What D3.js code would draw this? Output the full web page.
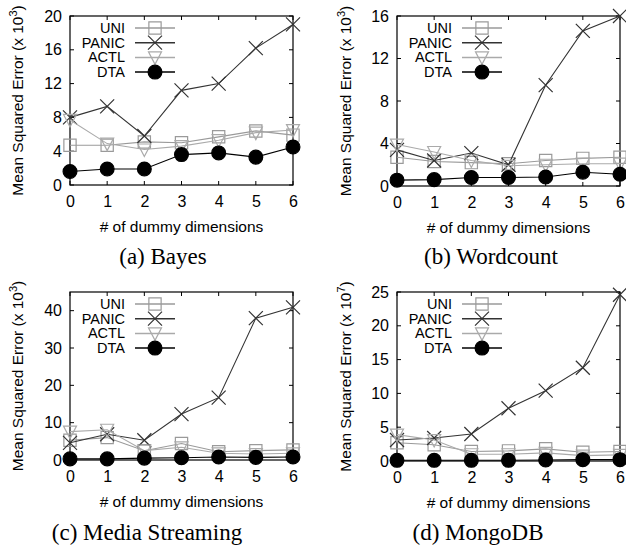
<!DOCTYPE html>
<html>
<head>
<meta charset="utf-8">
<script src="https://cdn.jsdelivr.net/npm/d3@7"></script>
<style>
  body { margin: 0; background: #fff; }
  svg { display: block; }
</style>
</head>
<body>
<svg id="chart" width="626" height="548"></svg>
<script>
// x values shared by every panel
const dims = [0, 1, 2, 3, 4, 5, 6];
const seriesNames = ["UNI", "PANIC", "ACTL", "DTA"];

// (a) Bayes, x 10^3
const bayesUNI   = [4.7, 4.7, 5.1, 5.0, 5.7, 6.4, 5.9];
const bayesPANIC = [8.0, 9.3, 5.8, 11.2, 12.0, 16.2, 19.0];
const bayesACTL  = [7.7, 4.9, 4.2, 4.6, 5.3, 6.2, 6.5];
const bayesDTA   = [1.6, 1.9, 1.9, 3.6, 3.8, 3.3, 4.5];

// (b) Wordcount, x 10^3
const wcUNI   = [2.7, 2.3, 2.2, 2.1, 2.4, 2.6, 2.7];
const wcPANIC = [3.4, 2.4, 3.1, 2.0, 9.5, 14.6, 16.0];
const wcACTL  = [3.9, 3.2, 2.4, 1.9, 2.0, 2.1, 2.1];
const wcDTA   = [0.55, 0.6, 0.8, 0.8, 0.85, 1.3, 1.1];

// (c) Media Streaming, x 10^3
const msUNI   = [5.3, 6.0, 2.5, 4.4, 2.2, 2.5, 2.7];
const msPANIC = [4.6, 6.9, 5.3, 12.3, 16.7, 38.0, 40.9];
const msACTL  = [7.6, 8.1, 2.5, 3.4, 1.8, 1.6, 1.8];
const msDTA   = [0.3, 0.3, 0.5, 0.6, 0.8, 0.7, 0.8];

// (d) MongoDB, x 10^7
const mgUNI   = [2.7, 2.4, 1.4, 1.5, 1.8, 1.3, 1.4];
const mgPANIC = [3.1, 3.4, 4.0, 7.8, 10.4, 13.8, 24.6];
const mgACTL  = [3.9, 3.1, 1.0, 1.0, 1.2, 0.8, 0.9];
const mgDTA   = [0.1, 0.1, 0.1, 0.1, 0.15, 0.2, 0.2];

const svg = d3.select("#chart");
const sans = "Liberation Sans, Arial, sans-serif";

const styles = {
  UNI:   { stroke: "#9a9a9a", symbol: d3.symbolSquare,   fill: "none", size: 150 },
  PANIC: { stroke: "#333",    symbol: "x",               fill: "none", size: 0 },
  ACTL:  { stroke: "#aaaaaa", symbol: "tri",             fill: "none", size: 0 },
  DTA:   { stroke: "#000",    symbol: d3.symbolCircle,   fill: "#000", size: 150 }
};

function symbolPath(s) {
  if (s.symbol === "tri") return "M-6.5,-5.5L6.5,-5.5L0,7Z";
  if (s.symbol === "x") return "M-7,-7L7,7M-7,7L7,-7";
  return d3.symbol(s.symbol, s.size)();
}

function marker(g, name, x, y) {
  const s = styles[name];
  g.append("path")
    .attr("d", symbolPath(s))
    .attr("transform", "translate(" + x + "," + y + ")")
    .attr("fill", s.fill)
    .attr("stroke", s.stroke)
    .attr("stroke-width", 1.2);
}

function drawPanel(p) {
  const x = d3.scaleLinear().domain([0, 6]).range([p.left, p.right]);
  const y = d3.scaleLinear().domain([0, p.ymax]).range([p.bottom, p.top]);
  const g = svg.append("g");

  // left axis + tick labels
  g.append("g")
    .attr("transform", "translate(" + p.left + ",0)")
    .call(d3.axisLeft(y).tickValues(p.yticks).tickSize(0).tickPadding(8))
    .call(a => a.select(".domain").remove())
    .selectAll("text").attr("font-family", sans).attr("font-size", 16).attr("fill", "#000");

  // bottom axis + tick labels
  g.append("g")
    .attr("transform", "translate(0," + p.bottom + ")")
    .call(d3.axisBottom(x).tickValues(dims).tickFormat(d3.format("d")).tickSize(0).tickPadding(11))
    .call(a => a.select(".domain").remove())
    .selectAll("text").attr("font-family", sans).attr("font-size", 16).attr("fill", "#000");

  // inward ticks on all four sides
  const tk = 4;
  p.yticks.forEach(v => {
    g.append("line").attr("x1", p.left).attr("x2", p.left + tk).attr("y1", y(v)).attr("y2", y(v)).attr("stroke", "#000");
    g.append("line").attr("x1", p.right).attr("x2", p.right - tk).attr("y1", y(v)).attr("y2", y(v)).attr("stroke", "#000");
  });
  dims.forEach(v => {
    g.append("line").attr("x1", x(v)).attr("x2", x(v)).attr("y1", p.bottom).attr("y2", p.bottom - tk).attr("stroke", "#000");
    g.append("line").attr("x1", x(v)).attr("x2", x(v)).attr("y1", p.top).attr("y2", p.top + tk).attr("stroke", "#000");
  });

  // frame
  g.append("rect")
    .attr("x", p.left).attr("y", p.top)
    .attr("width", p.right - p.left).attr("height", p.bottom - p.top)
    .attr("fill", "none").attr("stroke", "#000").attr("stroke-width", 1.2);

  // y label
  const yl = g.append("text")
    .attr("transform", "translate(" + p.ylabelX + "," + (p.top + p.bottom) / 2 + ") rotate(-90)")
    .attr("text-anchor", "middle")
    .attr("font-family", sans).attr("font-size", 15.5);
  yl.append("tspan").text("Mean Squared Error (x 10");
  yl.append("tspan").attr("dy", -6).attr("font-size", 11).text(p.exp);
  yl.append("tspan").attr("dy", 6).text(")");

  // x label
  g.append("text")
    .attr("x", (p.left + p.right) / 2).attr("y", p.bottom + 47)
    .attr("text-anchor", "middle")
    .attr("font-family", sans).attr("font-size", 15.5)
    .text("# of dummy dimensions");

  // series
  const line = d3.line().x((d, i) => x(dims[i])).y(d => y(d));
  seriesNames.forEach((name, k) => {
    const vals = p.data[k];
    g.append("path")
      .attr("d", line(vals))
      .attr("fill", "none")
      .attr("stroke", styles[name].stroke)
      .attr("stroke-width", 1.1);
    vals.forEach((v, i) => marker(g, name, x(dims[i]), y(v)));
  });

  // legend
  seriesNames.forEach((name, k) => {
    const ly = p.top + 12 + k * 14.7;
    g.append("text")
      .attr("x", p.left + 55).attr("y", ly + 5)
      .attr("text-anchor", "end")
      .attr("font-family", sans).attr("font-size", 14.5)
      .text(name);
    g.append("line")
      .attr("x1", p.left + 65).attr("x2", p.left + 105)
      .attr("y1", ly).attr("y2", ly)
      .attr("stroke", styles[name].stroke).attr("stroke-width", 1.5);
    marker(g, name, p.left + 85, ly);
  });

  // caption
  svg.append("text")
    .attr("x", p.capX).attr("y", p.capY)
    .attr("text-anchor", "middle")
    .attr("font-family", "Liberation Serif, Times New Roman, serif")
    .attr("font-size", 23)
    .text(p.caption);
}

drawPanel({ left: 70, right: 293, top: 16, bottom: 185, ymax: 20, yticks: [0, 4, 8, 12, 16, 20],
  exp: "3", ylabelX: 23, data: [bayesUNI, bayesPANIC, bayesACTL, bayesDTA],
  caption: "(a) Bayes", capX: 163, capY: 264 });
drawPanel({ left: 397, right: 620, top: 16, bottom: 186, ymax: 16, yticks: [0, 4, 8, 12, 16],
  exp: "3", ylabelX: 351, data: [wcUNI, wcPANIC, wcACTL, wcDTA],
  caption: "(b) Wordcount", capX: 491, capY: 264 });
drawPanel({ left: 70, right: 293, top: 292, bottom: 460, ymax: 45, yticks: [0, 10, 20, 30, 40],
  exp: "3", ylabelX: 23, data: [msUNI, msPANIC, msACTL, msDTA],
  caption: "(c) Media Streaming", capX: 147, capY: 540 });
drawPanel({ left: 397, right: 620, top: 292, bottom: 461, ymax: 25, yticks: [0, 5, 10, 15, 20, 25],
  exp: "7", ylabelX: 351, data: [mgUNI, mgPANIC, mgACTL, mgDTA],
  caption: "(d) MongoDB", capX: 478, capY: 540 });
</script>
</body>
</html>
